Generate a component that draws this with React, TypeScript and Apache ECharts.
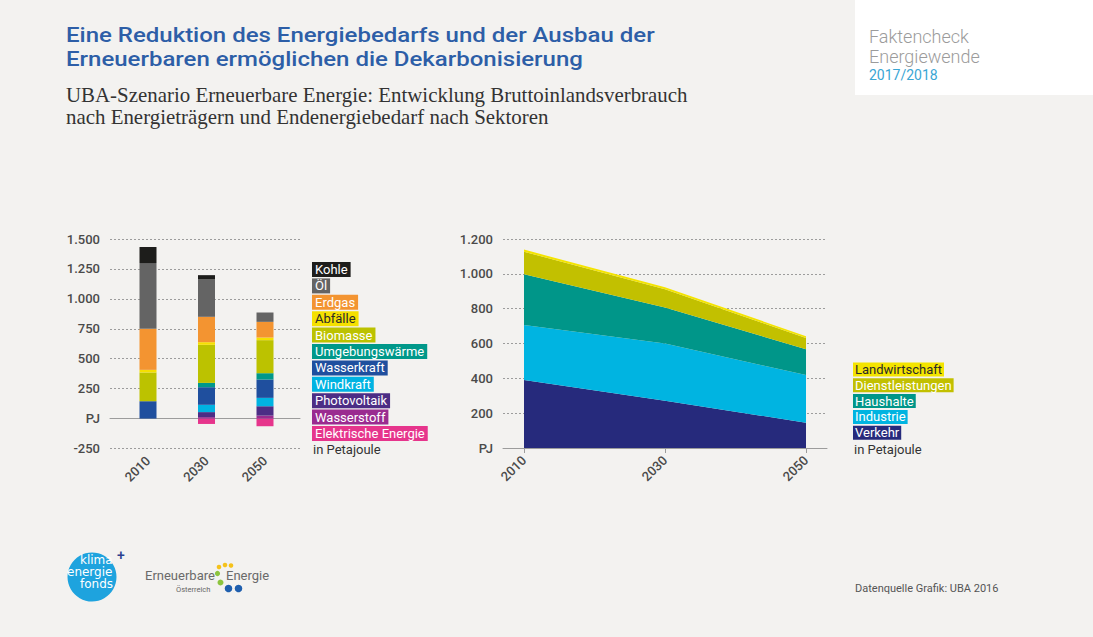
import React, { useEffect, useRef } from 'react';
import * as echarts from 'echarts';

// ---------- data ----------
const years = ['2010', '2030', '2050'];

// Bruttoinlandsverbrauch nach Energieträgern (PJ)
const kohle = [134, 36, 0];
const oel = [549, 312, 78];
const erdgas = [343, 212, 131];
const abfaelle = [22, 22, 22];
const biomasse = [240, 318, 276];
const umgebungswaerme = [0, 36, 53];
const wasserkraft = [145, 147, 153];
const windkraft = [0, 61, 70];
const photovoltaik = [0, 42, 78];
const wasserstoff = [0, 12, 25];
const elektrischeEnergie = [0, -45, -64];

// Endenergiebedarf nach Sektoren (PJ)
const verkehr = [390, 272, 145];
const industrie = [316, 328, 274];
const haushalte = [291, 206, 148];
const dienstleistungen = [130, 105, 65];
const landwirtschaft = [12, 12, 10];

const carrierLegend = ['Kohle', 'Öl', 'Erdgas', 'Abfälle', 'Biomasse', 'Umgebungswärme', 'Wasserkraft', 'Windkraft', 'Photovoltaik', 'Wasserstoff', 'Elektrische Energie'];
const sectorLegend = ['Landwirtschaft', 'Dienstleistungen', 'Haushalte', 'Industrie', 'Verkehr'];
const unitLabel = 'in Petajoule';

const titleLines = ['Eine Reduktion des Energiebedarfs und der Ausbau der', 'Erneuerbaren ermöglichen die Dekarbonisierung'];
const subtitleLines = ['UBA-Szenario Erneuerbare Energie: Entwicklung Bruttoinlandsverbrauch', 'nach Energieträgern und Endenergiebedarf nach Sektoren'];

// ---------- styles ----------
const carrierColors: Record<string, string> = {
  'Kohle': '#1d1d1b',
  'Öl': '#646464',
  'Erdgas': '#f39431',
  'Abfälle': '#f5e000',
  'Biomasse': '#bcc200',
  'Umgebungswärme': '#00988a',
  'Wasserkraft': '#1f4f9e',
  'Windkraft': '#00b3e2',
  'Photovoltaik': '#4c2d85',
  'Wasserstoff': '#9a2b90',
  'Elektrische Energie': '#e6358c',
};
const sectorColors: Record<string, string> = {
  'Landwirtschaft': '#f4e400',
  'Dienstleistungen': '#c2c000',
  'Haushalte': '#009689',
  'Industrie': '#00b4e1',
  'Verkehr': '#262a7c',
};
const darkText = ['Abfälle', 'Landwirtschaft'];

const AXIS_TXT = '#4a4a4a';
const GRID_CLR = '#9c9c9c';
const FONT = 'Roboto';

const fmt = (v: number) => {
  if (v === 0) return 'PJ';
  const s = String(Math.abs(v)).replace(/\B(?=(\d{3})+(?!\d))/g, '.');
  return (v < 0 ? '-' : '') + s;
};

export default function App() {
  const ref = useRef<HTMLDivElement>(null);
  useEffect(() => {
    if (!ref.current) return;
    const chart = echarts.init(ref.current, undefined, { renderer: 'svg' });

    const leftStackOrder: [string, number[]][] = [
      ['Elektrische Energie', elektrischeEnergie],
      ['Wasserstoff', wasserstoff],
      ['Photovoltaik', photovoltaik],
      ['Windkraft', windkraft],
      ['Wasserkraft', wasserkraft],
      ['Umgebungswärme', umgebungswaerme],
      ['Biomasse', biomasse],
      ['Abfälle', abfaelle],
      ['Erdgas', erdgas],
      ['Öl', oel],
      ['Kohle', kohle],
    ];
    const rightStackOrder: [string, number[]][] = [
      ['Verkehr', verkehr],
      ['Industrie', industrie],
      ['Haushalte', haushalte],
      ['Dienstleistungen', dienstleistungen],
      ['Landwirtschaft', landwirtschaft],
    ];

    const barSeries = leftStackOrder.map(([name, arr]) => ({
      name,
      type: 'bar',
      stack: 'carrier',
      xAxisIndex: 1,
      yAxisIndex: 1,
      barWidth: 17,
      data: arr,
      itemStyle: { color: carrierColors[name] },
    }));

    const areaSeries = rightStackOrder.map(([name, arr]) => ({
      name,
      type: 'line',
      stack: 'sector',
      xAxisIndex: 3,
      yAxisIndex: 3,
      symbol: 'none',
      showSymbol: false,
      lineStyle: { width: 0 },
      areaStyle: { color: sectorColors[name], opacity: 1 },
      data: arr,
    }));

    const axisLabelBase = {
      color: AXIS_TXT,
      fontSize: 13,
      fontWeight: 500,
      fontFamily: FONT,
    };

    const graphic: any[] = [];
    // top-right white box
    graphic.push({ type: 'rect', shape: { x: 855, y: 0, width: 238, height: 95 }, style: { fill: '#ffffff' } });
    graphic.push({ type: 'text', x: 869, y: 36, style: { text: 'Faktencheck', fill: '#9b9b9b', fontSize: 18, fontWeight: 300, fontFamily: FONT, verticalAlign: 'middle' } });
    graphic.push({ type: 'text', x: 869, y: 56, style: { text: 'Energiewende', fill: '#9b9b9b', fontSize: 18, fontWeight: 300, fontFamily: FONT, verticalAlign: 'middle' } });
    graphic.push({ type: 'text', x: 869, y: 75, style: { text: '2017/2018', fill: '#3aa6d4', fontSize: 14, fontWeight: 400, fontFamily: FONT, verticalAlign: 'middle' } });

    // title
    titleLines.forEach((t, i) => {
      graphic.push({ type: 'text', x: 66, y: 35 + i * 24, scaleX: 1.2, style: { text: t, fill: '#2d5ea7', fontSize: 20, fontWeight: 500, fontFamily: FONT, verticalAlign: 'middle' } });
    });
    subtitleLines.forEach((t, i) => {
      graphic.push({ type: 'text', x: 66, y: 95.5 + i * 21.5, scaleX: 1.02, style: { text: t, fill: '#333333', fontSize: 20.5, fontFamily: 'Liberation Serif', verticalAlign: 'middle' } });
    });

    // left legend
    carrierLegend.forEach((name, i) => {
      graphic.push({
        type: 'text', x: 312, y: 269.5 + i * 16.4,
        style: {
          text: name, fill: darkText.includes(name) ? '#2a2a2a' : '#ffffff',
          backgroundColor: carrierColors[name], padding: [1, 3, 1, 3], lineHeight: 13,
          fontSize: 13, fontFamily: FONT, fontWeight: 400, verticalAlign: 'middle',
        },
      });
    });
    graphic.push({ type: 'text', x: 313, y: 449, style: { text: unitLabel, fill: '#333333', fontSize: 13, fontFamily: FONT, verticalAlign: 'middle' } });

    // right legend
    sectorLegend.forEach((name, i) => {
      graphic.push({
        type: 'text', x: 853, y: 369.5 + i * 15.8,
        style: {
          text: name, fill: darkText.includes(name) ? '#2a2a2a' : '#ffffff',
          backgroundColor: sectorColors[name], padding: [1, 2, 0, 2], lineHeight: 13,
          fontSize: 13, fontFamily: FONT, fontWeight: 400, verticalAlign: 'middle',
        },
      });
    });
    graphic.push({ type: 'text', x: 854, y: 449, style: { text: unitLabel, fill: '#333333', fontSize: 13, fontFamily: FONT, verticalAlign: 'middle' } });

    // source
    graphic.push({ type: 'text', x: 855, y: 588, style: { text: 'Datenquelle Grafik: UBA 2016', fill: '#555555', fontSize: 11, fontFamily: FONT, verticalAlign: 'middle' } });

    // klima energie fonds logo
    graphic.push({ type: 'circle', shape: { cx: 92, cy: 577, r: 24.5 }, style: { fill: '#1ea3de' } });
    graphic.push({ type: 'text', x: 80, y: 560, style: { text: 'klima', fill: '#ffffff', fontSize: 12, fontFamily: 'DejaVu Sans', verticalAlign: 'middle' } });
    graphic.push({ type: 'text', x: 67, y: 572, style: { text: 'energie', fill: '#ffffff', fontSize: 12, fontFamily: 'DejaVu Sans', verticalAlign: 'middle' } });
    graphic.push({ type: 'text', x: 80, y: 584, style: { text: 'fonds', fill: '#ffffff', fontSize: 12, fontFamily: 'DejaVu Sans', verticalAlign: 'middle' } });
    graphic.push({ type: 'text', x: 117, y: 555, style: { text: '+', fill: '#2b3f8f', fontSize: 14, fontWeight: 500, fontFamily: FONT, verticalAlign: 'middle' } });

    // Erneuerbare Energie logo
    graphic.push({ type: 'text', x: 145, y: 575, style: { text: 'Erneuerbare', fill: '#6a6a6a', fontSize: 13, fontFamily: FONT, verticalAlign: 'middle' } });
    graphic.push({ type: 'text', x: 226, y: 575, style: { text: 'Energie', fill: '#6a6a6a', fontSize: 13, fontFamily: FONT, verticalAlign: 'middle' } });
    graphic.push({ type: 'text', x: 176, y: 589, style: { text: 'Österreich', fill: '#666666', fontSize: 7.5, fontFamily: FONT, verticalAlign: 'middle' } });
    const dots: [number, number, number, string][] = [
      [219, 567, 2.3, '#f5c21b'], [225, 565, 2.3, '#f5c21b'], [231, 565.5, 2.3, '#f5c21b'],
      [217.5, 573.5, 2.6, '#8cc43f'], [220.5, 582.5, 3, '#8cc43f'],
      [228.5, 588.5, 3.8, '#1f5fae'], [238.5, 588.5, 3.8, '#1f5fae'],
    ];
    dots.forEach(([cx, cy, r, c]) => graphic.push({ type: 'circle', shape: { cx, cy, r }, style: { fill: c } }));

    const hiddenY = (min: number, max: number, gridIndex: number) => ({ type: 'value', gridIndex, min, max, show: false });
    const labeledY = (min: number, max: number, interval: number, gridIndex: number) => ({
      type: 'value', gridIndex, min, max, interval,
      axisLine: { show: false }, axisTick: { show: false },
      splitLine: { show: true, lineStyle: { color: GRID_CLR, type: [2, 2], width: 1 } },
      axisLabel: { ...axisLabelBase, margin: 10, formatter: fmt },
    });
    const baseLineX = (gridIndex: number) => ({
      type: 'value', gridIndex, min: 0, max: 1,
      axisLine: { show: true, onZero: true, lineStyle: { color: GRID_CLR, width: 1 } },
      axisTick: { show: false }, axisLabel: { show: false }, splitLine: { show: false },
    });

    const option: any = {
      animation: false,
      backgroundColor: '#f3f2f0',
      grid: [
        { left: 110, top: 239, width: 190, height: 209.5 },
        { left: 118.75, top: 239, width: 175.5, height: 209.5 },
        { left: 503, top: 239, width: 324, height: 209 },
        { left: 524, top: 239, width: 282, height: 209 },
      ],
      xAxis: [
        baseLineX(0),
        {
          type: 'category', gridIndex: 1, data: years, boundaryGap: true,
          axisLine: { show: false, onZero: false },
          axisTick: { show: false },
          splitLine: { show: false },
          axisLabel: { ...axisLabelBase, rotate: 45, margin: 10 },
        },
        baseLineX(2),
        {
          type: 'category', gridIndex: 3, data: years, boundaryGap: false,
          axisLine: { show: false, onZero: false },
          axisTick: { show: true, length: 5, lineStyle: { color: GRID_CLR } },
          splitLine: { show: false },
          axisLabel: { ...axisLabelBase, rotate: 45, margin: 10 },
        },
      ],
      yAxis: [
        labeledY(-250, 1500, 250, 0),
        hiddenY(-250, 1500, 1),
        labeledY(0, 1200, 200, 2),
        hiddenY(0, 1200, 3),
      ],
      series: [...barSeries, ...areaSeries],
      graphic,
    };
    chart.setOption(option);
    return () => chart.dispose();
  }, []);

  return <div ref={ref} style={{ position: 'fixed', left: 0, top: 0, width: 1093, height: 637 }} />;
}
